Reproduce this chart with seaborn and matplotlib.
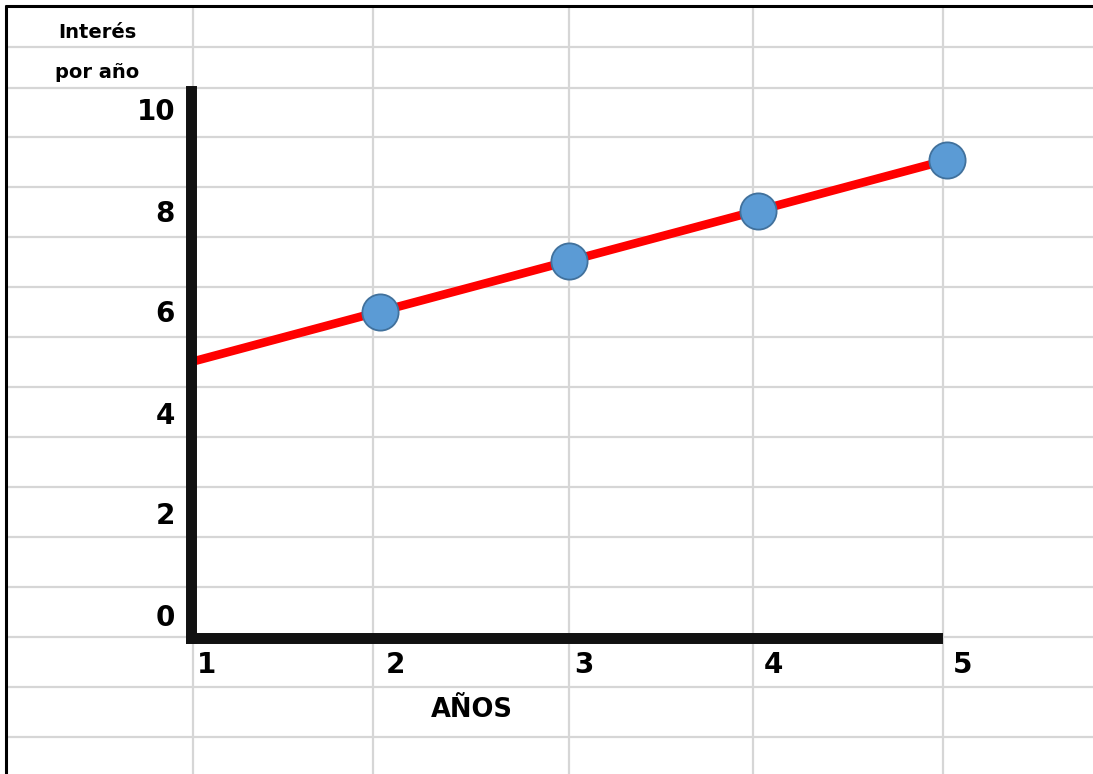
import matplotlib
matplotlib.use("Agg")
import matplotlib.pyplot as plt
from matplotlib.transforms import ScaledTranslation
import seaborn as sns

# Interest per year (markers) and the straight trend drawn through them
years = [2, 3, 4, 5]
interest = [6, 7, 8, 9]
line_years = [1, 2, 3, 4, 5]
line_interest = [5, 6, 7, 8, 9]

x_ticks = [1, 2, 3, 4, 5]
y_ticks = [0, 2, 4, 6, 8, 10]
x_label = "AÑOS"
y_label = "Interés\npor año"

sns.set_style("white")
plt.rcParams["font.family"] = ["DejaVu Sans"]
plt.rcParams["font.weight"] = "bold"
for key in ("text.color", "axes.labelcolor", "xtick.color", "ytick.color"):
    plt.rcParams[key] = "black"

W, H, DPI = 1093, 774, 100
fig = plt.figure(figsize=(W / DPI, H / DPI), dpi=DPI, facecolor="white")

# ---- spreadsheet-style background, in pixel units ----
bg = fig.add_axes([0, 0, 1, 1], zorder=0)
bg.set_xlim(0, W)
bg.set_ylim(H, 0)
bg.axis("off")
col_edges = [193, 373, 569, 753, 943]
row_edges = [46.5, 87.5, 137, 187, 237, 287, 337, 387, 437, 487, 537, 587, 637, 687, 737]
grid_color = "#d6d6d6"
bg.vlines(col_edges, 7, H, color=grid_color, lw=1.6)
bg.hlines(row_edges, 7, W, color=grid_color, lw=1.6)
bg.plot([5, W], [6, 6], color="black", lw=2.2, solid_capstyle="butt")
bg.plot([6, 6], [5, H], color="black", lw=2.2, solid_capstyle="butt")

# ---- chart axes ----
ax_left, ax_right, ax_top, ax_bottom = 191, 975, 91, 637.5   # pixels
x_axis_end = 937.5                                            # end of the drawn x axis
px_per_year = 189.0
px_per_unit = 50.5
y_zero_px = 614.5
ax = fig.add_axes([ax_left / W, (H - ax_bottom) / H,
                   (ax_right - ax_left) / W, (ax_bottom - ax_top) / H], zorder=1)
ax.patch.set_alpha(0)

sns.lineplot(x=line_years, y=line_interest, ax=ax, color="#ff0000", lw=6.2,
             clip_on=False, zorder=2)
sns.scatterplot(x=years, y=interest, ax=ax, s=680, color="#5b9bd5",
                edgecolor="#41719c", linewidth=1.3, clip_on=False, zorder=3)

ax.set_xticks(x_ticks)
ax.set_yticks(y_ticks)
ax.set_xlim(1, 1 + (ax_right - ax_left) / px_per_year)
ax.set_ylim((y_zero_px - ax_bottom) / px_per_unit, (y_zero_px - ax_top) / px_per_unit)

for side in ("top", "right"):
    ax.spines[side].set_visible(False)
for side in ("left", "bottom"):
    ax.spines[side].set_linewidth(7.9)
    ax.spines[side].set_color("#111111")
    ax.spines[side].set_zorder(4)
ax.spines["bottom"].set_bounds(1, 1 + (x_axis_end - ax_left) / px_per_year)

ax.tick_params(axis="both", length=0, labelsize=20, labelcolor="black")
ax.tick_params(axis="y", pad=11.5)
ax.tick_params(axis="x", pad=9.4)
shift = ScaledTranslation(4 / 72, 0, fig.dpi_scale_trans)
for lab in ax.get_xticklabels():
    lab.set_horizontalalignment("left")
    lab.set_transform(lab.get_transform() + shift)
for lab in ax.get_xticklabels() + ax.get_yticklabels():
    lab.set_fontweight("bold")

ax.set_xlabel(x_label, fontsize=18.5, fontweight="bold", color="black")
ax.xaxis.set_label_coords(471.5, 717, transform=bg.transData)
ax.xaxis.label.set_verticalalignment("baseline")

ax.set_ylabel(y_label, fontsize=14, fontweight="bold", rotation=0, color="black",
              linespacing=2.4, ha="center", va="center")
ax.yaxis.set_label_coords(97.5, 53, transform=bg.transData)

fig.savefig("out.png", dpi=DPI, facecolor="white")
